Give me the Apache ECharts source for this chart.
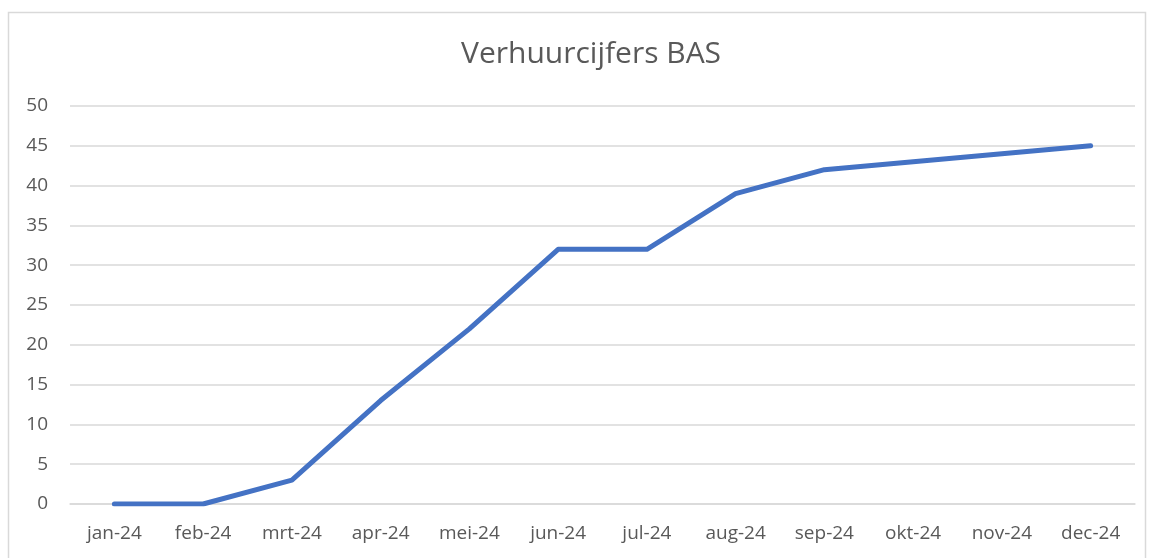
<!DOCTYPE html>
<html><head><meta charset="utf-8">
<script src="https://cdn.jsdelivr.net/npm/echarts@6/dist/echarts.min.js"></script>
<style>html,body{margin:0;padding:0;background:#fff}#c{width:1150px;height:558px}</style>
</head><body><div id="c"></div>
<script>
var categories = ['jan-24','feb-24','mrt-24','apr-24','mei-24','jun-24','jul-24','aug-24','sep-24','okt-24','nov-24','dec-24'];
var values = [0, 0, 3, 13, 22, 32, 32, 39, 42, 43, 44, 45];
var chart = echarts.init(document.getElementById('c'));
var font = '"Open Sans", "DejaVu Sans", sans-serif';
chart.setOption({
  animation: false,
  graphic: [{type:'rect', shape:{x:8.5, y:12.5, width:1137, height:560}, style:{fill:'#fff', stroke:'#d9d9d9', lineWidth:1.5}, z:-10}],
  title: {text:'Verhuurcijfers BAS', left:456, top:34, textStyle:{fontFamily:font, fontSize:30, fontWeight:'normal', color:'#595959'}},
  grid: {left:70, right:15, top:106, bottom:54},
  xAxis: {type:'category', data:categories, boundaryGap:true,
    axisLine:{show:true, lineStyle:{color:'#d9d9d9', width:1.5}}, axisTick:{show:false},
    axisLabel:{fontFamily:font, fontSize:19, color:'#595959', margin:20}},
  yAxis: {type:'value', min:0, max:50, interval:5,
    axisLine:{show:false}, axisTick:{show:false},
    splitLine:{lineStyle:{color:'#d9d9d9', width:1.5}},
    axisLabel:{fontFamily:font, fontSize:19, color:'#595959', margin:22, align:'right'}},
  series: [{type:'line', data:values, symbol:'none', lineStyle:{color:'#4472c4', width:5, cap:'round', join:'round'}, itemStyle:{color:'#4472c4'}}]
});
</script></body></html>
